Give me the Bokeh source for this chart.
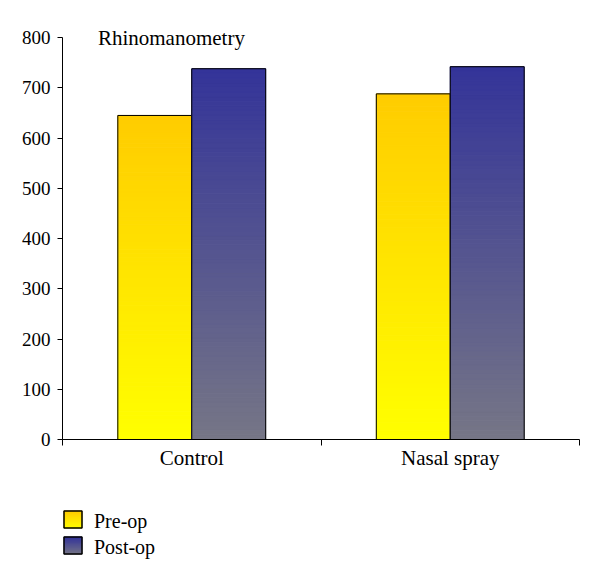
from bokeh.plotting import figure
from bokeh.models import Range1d, FixedTicker, Label
from bokeh.layouts import column
from bokeh.embed import file_html
from bokeh.resources import INLINE
from bokeh.core.properties import value

# ---- data ----
categories = ["Control", "Nasal spray"]
series_names = ["Pre-op", "Post-op"]
pre_op = [645, 688]
post_op = [738, 742]
y_ticks = [0, 100, 200, 300, 400, 500, 600, 700, 800]
title_text = "Rhinomanometry"

# ---- style ----
FONT = "Liberation Serif"
BAR_W = 0.286
N_SLICES = 80
GRAD = {  # (bottom colour, top colour)
    "Pre-op": ((255, 255, 0), (255, 204, 0)),
    "Post-op": ((118, 118, 134), (52, 52, 153)),
}
BORDER_L, BORDER_R = 62, 5


def mix(c0, c1, t):
    return "#%02x%02x%02x" % tuple(int(round(a + (b - a) * t)) for a, b in zip(c0, c1))


p = figure(width=584, height=478,
           x_range=Range1d(0, len(categories)), y_range=Range1d(0, 840),
           output_backend="svg", toolbar_location=None,
           min_border_left=BORDER_L, min_border_right=BORDER_R,
           min_border_top=17, min_border_bottom=39)
p.outline_line_color = None
p.grid.visible = False
p.background_fill_color = "white"

series_values = {"Pre-op": pre_op, "Post-op": post_op}
for si, name in enumerate(series_names):
    vals = series_values[name]
    c_bot, c_top = GRAD[name]
    L, R, B, T, C = [], [], [], [], []
    OL, OR, OT = [], [], []
    for ci, v in enumerate(vals):
        left = ci + 0.5 - BAR_W + si * BAR_W
        right = left + BAR_W
        for k in range(N_SLICES):
            L.append(left)
            R.append(right)
            B.append(v * k / N_SLICES)
            T.append(v * (k + 1) / N_SLICES)
            C.append(mix(c_bot, c_top, (k + 0.5) / N_SLICES))
        OL.append(left)
        OR.append(right)
        OT.append(v)
    p.quad(left=L, right=R, bottom=B, top=T, fill_color=C, line_color=C, line_width=1)
    p.quad(left=OL, right=OR, bottom=0, top=OT, fill_color=None,
           line_color="black", line_width=1)

# axes
xa = p.xaxis[0]
xa.ticker = FixedTicker(ticks=[i + 0.5 for i in range(len(categories))],
                        minor_ticks=list(range(len(categories) + 1)))
xa.major_label_overrides = {i + 0.5: c for i, c in enumerate(categories)}
xa.major_tick_out = 0
xa.major_tick_in = 0
xa.minor_tick_out = 6
xa.minor_tick_in = 0
xa.major_label_standoff = 0
xa.axis_line_color = "black"
xa.minor_tick_line_color = "black"
xa.major_label_text_font = FONT
xa.major_label_text_font_size = "21px"
xa.major_label_text_color = "black"

ya = p.yaxis[0]
ya.ticker = FixedTicker(ticks=y_ticks)
ya.bounds = (y_ticks[0], y_ticks[-1])
ya.major_tick_out = 5
ya.major_tick_in = 0
ya.minor_tick_out = 0
ya.minor_tick_in = 0
ya.major_label_standoff = 7
ya.axis_line_color = "black"
ya.major_tick_line_color = "black"
ya.major_label_text_font = FONT
ya.major_label_text_font_size = "19px"
ya.major_label_text_color = "black"

p.add_layout(Label(x=0.137, y=800, text=title_text, text_font=FONT,
                   text_font_size="21px", text_color="black",
                   text_baseline="alphabetic"))

# ---- legend (separate strip with gradient swatches) ----
frame_w = 584 - BORDER_L - BORDER_R
lg = figure(width=584, height=86, x_range=Range1d(0, frame_w), y_range=Range1d(86, 0),
            output_backend="svg", toolbar_location=None,
            min_border_left=BORDER_L, min_border_right=BORDER_R,
            min_border_top=0, min_border_bottom=0,
            x_axis_type=None, y_axis_type=None)
lg.outline_line_color = None
lg.grid.visible = False

SW_X, SW_W, SW_H, SW_TOP, SW_GAP = 1.5, 18, 17, 32.5, 26
for si, name in enumerate(series_names):
    c_bot, c_top = GRAD[name]
    top = SW_TOP + si * SW_GAP
    L, R, B, T, C = [], [], [], [], []
    n = 30
    for k in range(n):
        L.append(SW_X)
        R.append(SW_X + SW_W)
        B.append(top + SW_H - SW_H * k / n)
        T.append(top + SW_H - SW_H * (k + 1) / n)
        C.append(mix(c_bot, c_top, (k + 0.5) / n))
    lg.quad(left=L, right=R, bottom=B, top=T, fill_color=C, line_color=C, line_width=1)
    lg.quad(left=[SW_X], right=[SW_X + SW_W], bottom=[top + SW_H], top=[top],
            fill_color=None, line_color="black", line_width=1.5)
    lg.text(x=[SW_X + SW_W + 12], y=[top + SW_H / 2 + 1], text=[name],
            text_font=value(FONT), text_font_size=value("20px"),
            text_baseline="middle", text_color="black")

layout = column(p, lg, spacing=0)
open("out.html", "w").write(file_html(layout, INLINE))
